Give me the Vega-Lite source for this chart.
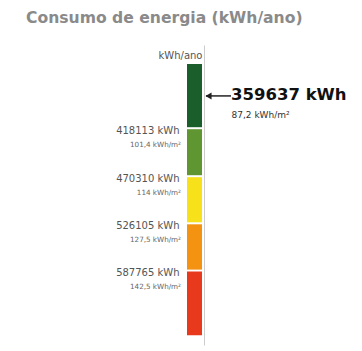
{
  "$schema": "https://vega.github.io/schema/vega-lite/v6.json",
  "width": 362,
  "height": 319,
  "autosize": {"type": "none"},
  "padding": {"left": 0, "top": 32, "right": 0, "bottom": 0},
  "background": "white",
  "title": {
    "text": "Consumo de energia (kWh/ano)",
    "anchor": "start",
    "frame": "group",
    "orient": "top",
    "dx": 26,
    "offset": -7,
    "baseline": "alphabetic",
    "font": "DejaVu Sans",
    "fontSize": 15.6,
    "fontWeight": "bold",
    "color": "#8a8a8a"
  },
  "config": {
    "view": {"stroke": null},
    "axisY": {
      "orient": "left",
      "offset": -204,
      "domain": true,
      "domainColor": "#cccccc",
      "domainWidth": 1,
      "ticks": false,
      "labels": false,
      "grid": false,
      "titleAngle": 0,
      "titleAlign": "right",
      "titleBaseline": "middle",
      "titleX": -2,
      "titleY": 23,
      "titleFont": "DejaVu Sans",
      "titleFontSize": 10,
      "titleFontWeight": "normal",
      "titleColor": "#555555"
    }
  },
  "datasets": {
    "classes": [
      {"cls": "A", "lo": 300000, "hi": 418113, "kwhm2": null},
      {"cls": "B", "lo": 418113, "hi": 470310, "kwhm2": "101,4"},
      {"cls": "C", "lo": 470310, "hi": 526105, "kwhm2": "114"},
      {"cls": "D", "lo": 526105, "hi": 587765, "kwhm2": "127,5"},
      {"cls": "E", "lo": 587765, "hi": 650000, "kwhm2": "142,5"}
    ],
    "pointer": [
      {"value": 359637, "kwhm2": "87,2"}
    ]
  },
  "layer": [
    {
      "data": {"name": "classes"},
      "mark": {"type": "rect", "yOffset": 1, "y2Offset": -1},
      "encoding": {
        "y": {
          "field": "lo",
          "type": "quantitative",
          "title": "kWh/ano",
          "scale": {
            "domain": [270000, 300000, 418113, 470310, 526105, 587765, 650000, 680000],
            "range": [13, 31, 96.2, 144.2, 191.3, 238.6, 304.3, 313],
            "zero": false,
            "nice": false
          }
        },
        "y2": {"field": "hi"},
        "x": {"datum": 187, "type": "quantitative", "scale": {"domain": [0, 362], "range": [0, 362], "zero": false, "nice": false}, "axis": null},
        "x2": {"datum": 202},
        "color": {
          "field": "cls",
          "type": "nominal",
          "scale": {"domain": ["A", "B", "C", "D", "E"], "range": ["#195e2b", "#5f9631", "#f6e11a", "#f49212", "#e8391c"]},
          "legend": null
        }
      }
    },
    {
      "data": {"name": "classes"},
      "transform": [
        {"filter": "datum.kwhm2 != null"},
        {"calculate": "datum.lo + ' kWh'", "as": "lbl"}
      ],
      "mark": {"type": "text", "align": "right", "baseline": "middle", "dy": 2.5, "font": "DejaVu Sans", "fontSize": 10, "color": "#555555"},
      "encoding": {
        "y": {"field": "lo", "type": "quantitative", "title": "kWh/ano"},
        "x": {"datum": 179.5, "type": "quantitative"},
        "text": {"field": "lbl"}
      }
    },
    {
      "data": {"name": "classes"},
      "transform": [
        {"filter": "datum.kwhm2 != null"},
        {"calculate": "datum.kwhm2 + ' kWh/m²'", "as": "lbl"}
      ],
      "mark": {"type": "text", "align": "right", "baseline": "middle", "dy": 16.5, "font": "DejaVu Sans", "fontSize": 7.2, "color": "#666666"},
      "encoding": {
        "y": {"field": "lo", "type": "quantitative", "title": "kWh/ano"},
        "x": {"datum": 181, "type": "quantitative"},
        "text": {"field": "lbl"}
      }
    },
    {
      "data": {"name": "pointer"},
      "mark": {"type": "rule", "color": "#222222", "strokeWidth": 1.5},
      "encoding": {
        "y": {"field": "value", "type": "quantitative", "title": "kWh/ano"},
        "x": {"datum": 206, "type": "quantitative"},
        "x2": {"datum": 231}
      }
    },
    {
      "data": {"name": "pointer"},
      "mark": {"type": "point", "shape": "triangle-left", "filled": true, "color": "#222222", "size": 50, "opacity": 1},
      "encoding": {
        "y": {"field": "value", "type": "quantitative", "title": "kWh/ano"},
        "x": {"datum": 208.5, "type": "quantitative"}
      }
    },
    {
      "data": {"name": "pointer"},
      "transform": [{"calculate": "datum.value + ' kWh'", "as": "lbl"}],
      "mark": {"type": "text", "align": "left", "baseline": "middle", "dy": -1, "font": "DejaVu Sans", "fontSize": 16.5, "fontWeight": "bold", "color": "#111111"},
      "encoding": {
        "y": {"field": "value", "type": "quantitative", "title": "kWh/ano"},
        "x": {"datum": 231, "type": "quantitative"},
        "text": {"field": "lbl"}
      }
    },
    {
      "data": {"name": "pointer"},
      "transform": [{"calculate": "datum.kwhm2 + ' kWh/m²'", "as": "lbl"}],
      "mark": {"type": "text", "align": "left", "baseline": "middle", "dy": 19.5, "font": "DejaVu Sans", "fontSize": 9, "color": "#333333"},
      "encoding": {
        "y": {"field": "value", "type": "quantitative", "title": "kWh/ano"},
        "x": {"datum": 231.5, "type": "quantitative"},
        "text": {"field": "lbl"}
      }
    }
  ]
}
